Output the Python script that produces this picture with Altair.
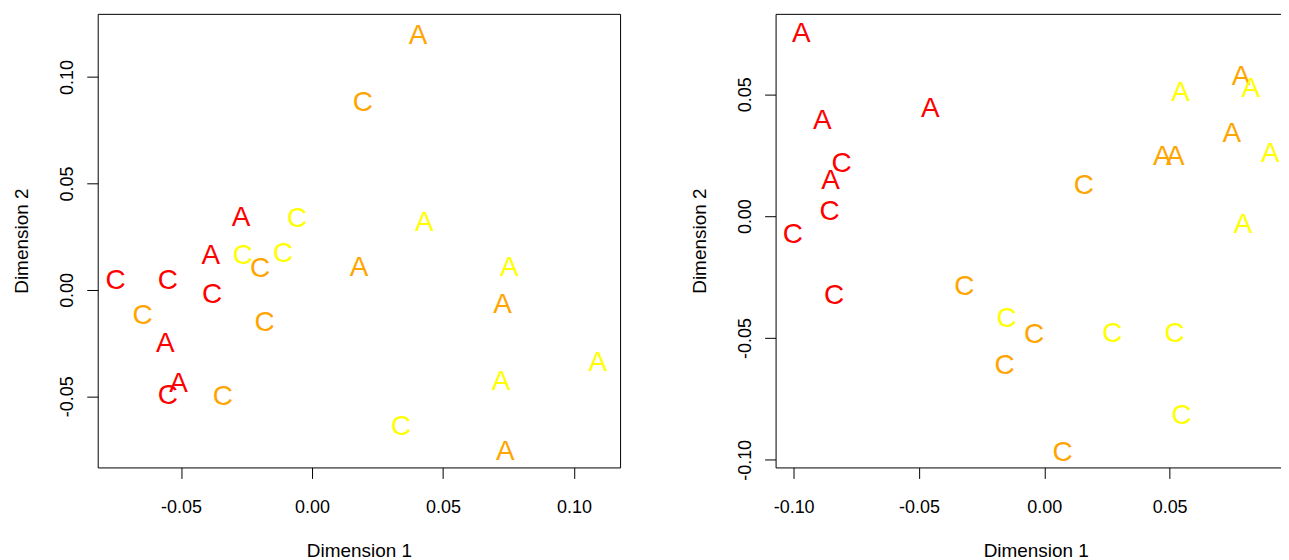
import altair as alt
import pandas as pd

# ---- left panel data ----
left_label = ["A", "C", "A", "C", "A", "A", "C", "C", "C", "A", "A", "C", "C",
              "C", "C", "A", "C", "A", "A", "A", "A", "C", "C", "C", "A"]
left_group = ["orange", "orange", "red", "yellow", "yellow", "red", "yellow", "yellow",
              "orange", "orange", "yellow", "red", "red", "red", "orange", "orange",
              "orange", "red", "yellow", "red", "yellow", "red", "orange", "yellow", "orange"]
left_x = [0.0405, 0.0194, -0.0271, -0.0057, 0.0429, -0.0386, -0.0264, -0.0110,
          -0.0198, 0.0180, 0.0753, -0.0750, -0.0550, -0.0381, -0.0647, 0.0727,
          -0.0181, -0.0560, 0.1091, -0.0509, 0.0722, -0.0550, -0.0340, 0.0340, 0.0738]
left_y = [0.1198, 0.0882, 0.0342, 0.0339, 0.0319, 0.0165, 0.0164, 0.0171,
          0.0101, 0.0106, 0.0106, 0.0047, 0.0047, -0.0018, -0.0118, -0.0065,
          -0.0151, -0.0251, -0.0337, -0.0437, -0.0429, -0.0492, -0.0500, -0.0638, -0.0757]

# ---- right panel data ----
right_label = ["A", "A", "A", "C", "A", "C", "C", "C", "A", "A", "A", "A", "A",
               "A", "A", "C", "A", "C", "C", "C", "C", "C", "C", "C", "C"]
right_group = ["red", "red", "red", "red", "red", "red", "red", "red",
               "orange", "yellow", "yellow", "orange", "orange", "orange", "yellow",
               "orange", "yellow", "orange", "yellow", "orange", "yellow", "yellow",
               "orange", "yellow", "orange"]
right_x = [-0.0969, -0.0886, -0.0455, -0.0809, -0.0853, -0.0857, -0.1003, -0.0839,
           0.0785, 0.0824, 0.0544, 0.0748, 0.0471, 0.0523, 0.0902, 0.0158, 0.0793,
           -0.0319, -0.0150, -0.0041, 0.0271, 0.0520, -0.0158, 0.0548, 0.0073]
right_y = [0.0752, 0.0394, 0.0443, 0.0219, 0.0150, 0.0022, -0.0072, -0.0323,
           0.0574, 0.0526, 0.0511, 0.0343, 0.0248, 0.0248, 0.0260, 0.0129, -0.0032,
           -0.0288, -0.0419, -0.0485, -0.0480, -0.0480, -0.0609, -0.0818, -0.0967]

groups = ["red", "orange", "yellow"]
group_colors = ["#FF0000", "#FFA500", "#FFFF00"]

left_ticks_x = [-0.05, 0.0, 0.05, 0.10]
left_ticks_y = [-0.05, 0.0, 0.05, 0.10]
right_ticks_x = [-0.10, -0.05, 0.0, 0.05]
right_ticks_y = [-0.10, -0.05, 0.0, 0.05]

left_df = pd.DataFrame({"label": left_label, "group": left_group,
                        "x": left_x, "y": left_y, "order": range(len(left_x))})
right_df = pd.DataFrame({"label": right_label, "group": right_group,
                         "x": right_x, "y": right_y, "order": range(len(right_x))})

FONT = "Liberation Sans"
label_expr = "(datum.value < -1e-9 ? '-' : '') + format(abs(datum.value), '.2f')"
color = alt.Color("group:N", scale=alt.Scale(domain=groups, range=group_colors), legend=None)


def text_layer(df, xdom, ydom, xticks, yticks, domain_lines):
    return alt.Chart(df).mark_text(
        font=FONT, fontSize=28, align="center", baseline="middle", dy=1
    ).encode(
        x=alt.X("x:Q", scale=alt.Scale(domain=xdom, nice=False, zero=False),
                axis=alt.Axis(values=xticks, labelExpr=label_expr, title="Dimension 1",
                              domain=domain_lines)),
        y=alt.Y("y:Q", scale=alt.Scale(domain=ydom, nice=False, zero=False),
                axis=alt.Axis(values=yticks, labelExpr=label_expr, title="Dimension 2",
                              domain=domain_lines)),
        text="label:N",
        color=color,
        order="order:Q",
    )


left = text_layer(left_df, [-0.0818, 0.1176], [-0.0834, 0.1297],
                  left_ticks_x, left_ticks_y, False).properties(
    width=524, height=455, view={"stroke": "black", "strokeWidth": 1})

# right panel runs past the window edge (as in the reference); the overflow is clipped
right_xdom = [-0.1072, 0.1004]
right_ydom = [-0.1031, 0.0830]
right_main = text_layer(right_df, right_xdom, right_ydom,
                        right_ticks_x, right_ticks_y, True)
right_top = alt.Chart(right_df).mark_text(opacity=0, text="").encode(
    x=alt.X("x:Q", scale=alt.Scale(domain=right_xdom, nice=False, zero=False),
            axis=alt.Axis(orient="top", labels=False, ticks=False, domain=True, title=None)),
    y=alt.Y("y:Q", scale=alt.Scale(domain=right_ydom, nice=False, zero=False)),
)
right = alt.layer(right_main, right_top).resolve_axis(x="independent").properties(
    width=522, height=455, view={"stroke": "transparent"})

chart = alt.hconcat(left, right, spacing=69).properties(
    padding={"left": 4, "top": 4, "right": -16, "bottom": 0}
).configure_axis(
    labelFont=FONT, labelFontSize=18, labelColor="black",
    titleFont=FONT, titleFontSize=19, titleFontWeight="normal", titleColor="black",
    tickColor="black", tickSize=11, tickWidth=1, domainColor="black", domainWidth=1,
    grid=False,
).configure_axisX(
    labelPadding=20, titlePadding=25,
).configure_axisY(
    labelAngle=270, labelAlign="center", labelBaseline="bottom",
    labelPadding=10, titlePadding=27,
).configure_view(stroke="black")

chart.save("out.html", embed_options={"renderer": "svg", "actions": False})
